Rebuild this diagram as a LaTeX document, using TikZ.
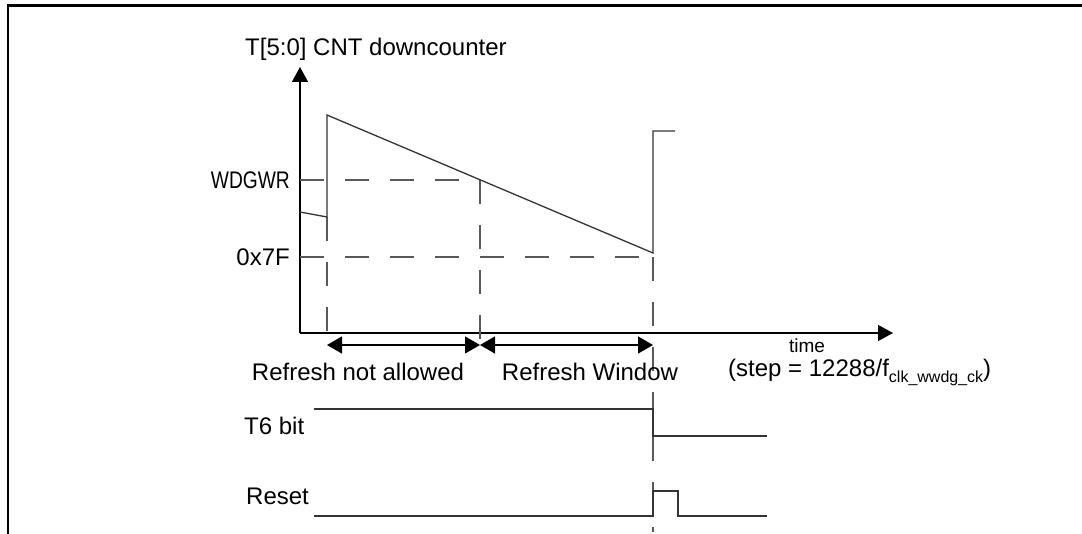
\documentclass[tikz,border=0pt]{standalone}
\usepackage{fontspec}
\setmainfont{Liberation Sans}
\usetikzlibrary{arrows.meta}
\begin{document}
\begin{tikzpicture}[x=1pt,y=-1pt,
  sig/.style={line width=1.3pt, black!80},
  dsh/.style={line width=1.3pt, black!65, dash pattern=on 24pt off 21pt},
  lbl/.style={font=\fontsize{24}{27}\selectfont, inner sep=0pt},
  tri/.style={-{Triangle[length=15pt,width=16pt]}},
  dim/.style={{Triangle[length=15pt,width=17pt]}-{Triangle[length=15pt,width=17pt]}},
]
\useasboundingbox (0,0) rectangle (1082,534);
% frame
\draw[line width=2.5pt] (8,534) -- (8,5.5) -- (1082,5.5);
% axes
\coordinate (O) at (300,333);
\coordinate (ytop) at (300,67);
\coordinate (xend) at (893,333);
\draw[sig, black, tri] (O) -- (ytop);
\draw[sig, black, tri] (O) -- (xend);
\node[lbl, anchor=base west] (title) at (245,56) {T[5:0] CNT downcounter};
\node[lbl, anchor=east] (wdgwr) at (290,180) {\scalebox{0.8}[1]{WDGWR}};
\node[lbl, anchor=east] (x7f) at (290,257) {0x7F};
% key points
\coordinate (a0) at (300,212);
\coordinate (a1) at (327,217);
\coordinate (peak) at (327,115);
\coordinate (mid) at (480,180);
\coordinate (low) at (653,253);
\coordinate (hi) at (653,131);
\coordinate (hiend) at (675,131);
% dashed guides
\draw[dsh] (300,180) -- (mid);
\draw[dsh] (300,257) -- (653,257);
\draw[dsh] (a1) -- (327,345);
\draw[dsh] (mid) -- (480,345);
\draw[dsh] (653,257) -- (653,532);
% counter
\draw[sig] (a0) -- (a1) -- (peak) -- (low) -- (hi) -- (hiend);
% dimension arrows
\coordinate (d0) at (327,345);
\coordinate (d1) at (480,345);
\coordinate (d2) at (653,345);
\draw[sig, black, dim] (d0) -- (d1);
\draw[sig, black, dim] (d1) -- (d2);
\node[lbl] (rna) at (358,372) {Refresh not allowed};
\node[lbl] (rw) at (590,372) {Refresh Window};
\node[font=\fontsize{19}{22}\selectfont, inner sep=0pt] (time) at (807,346) {time};
\node[lbl, anchor=west] (step) at (728,372) {(step = 12288/f{\fontsize{16}{18}\selectfont\raisebox{-6pt}{clk\_wwdg\_ck}})};
% T6 bit
\node[lbl, anchor=west] (t6) at (244,426) {T6 bit};
\draw[sig] (314,409) -- (653,409) -- (653,436) -- (767,436);
% Reset
\node[lbl, anchor=west] (rst) at (246,496) {Reset};
\draw[sig] (314,516) -- (653,516) -- (653,491) -- (678,491) -- (678,516) -- (767,516);
\end{tikzpicture}
\end{document}
